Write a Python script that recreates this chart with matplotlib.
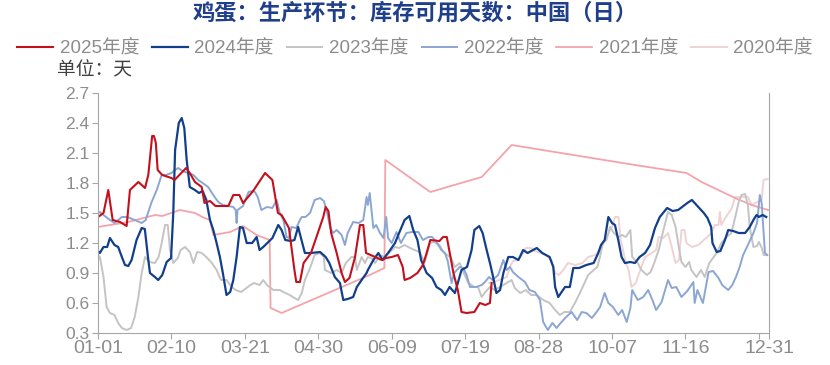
# egg inventory days chart
# --------------------------------------------------------------------------------

import matplotlib
matplotlib.use('Agg')
import matplotlib.pyplot as plt

plt.rcParams['font.family'] = ['Liberation Sans', 'Noto Sans CJK SC', 'DejaVu Sans']

# data, day of year (leap base year) vs inventory days

d25 = [0, 3, 5.6, 8, 12, 15.6, 17.4, 22, 25.6, 27.4, 29.5, 30.5, 31.5, 32.5, 35, 40, 41.7, 48, 50, 52.8,
       56.5, 58, 61, 64, 71, 73.7, 77, 79, 84.5, 91, 95, 98, 100, 104, 107, 108, 110, 112, 116, 119,
       122.7, 124, 125.5, 127, 130, 132.7, 134.5, 137, 140, 142.7, 144.5, 146, 151, 154.5, 157, 160, 163.4, 166, 167, 170,
       174, 177, 179, 181, 186, 188, 190, 192, 193.6, 196, 198, 200.8, 205, 208, 211, 213.5, 214.4]
v25 = [1.46, 1.5, 1.73, 1.43, 1.41, 1.37, 1.73, 1.81, 1.75, 1.88, 2.27, 2.27, 2.2, 1.93, 1.88, 1.85, 1.83, 1.95, 1.9, 1.81,
       1.76, 1.6, 1.62, 1.57, 1.57, 1.68, 1.68, 1.6, 1.72, 1.9, 1.83, 1.5, 1.48, 1.35, 0.93, 0.81, 0.81, 1.0, 1.1, 1.26,
       1.46, 1.56, 1.52, 1.3, 1.1, 0.9, 0.81, 0.85, 1.06, 1.38, 1.38, 1.1, 1.06, 1.03, 1.05, 1.06, 1.08, 0.96, 0.83, 0.85,
       0.9, 0.98, 1.1, 1.23, 1.22, 1.26, 1.26, 1.06, 0.9, 0.73, 0.51, 0.5, 0.51, 0.6, 0.58, 0.6, 0.8]

d24 = [0, 1, 3, 5, 6.5, 9, 11, 13, 14.7, 16.5, 18.3, 21, 23.8, 25.5, 27.4, 28.3, 31, 32.8, 35, 37.4,
       39.8, 41, 42, 44, 45.6, 47, 48.3, 50, 52.8, 55, 57, 59, 61, 62.8, 64.6, 66.4, 68, 70, 72, 73.7,
       75.5, 77.3, 79, 81, 84, 86.4, 88, 90, 92.8, 95, 98.2, 100, 102, 105, 107, 109, 111, 112.7, 116, 121,
       124, 126, 129, 131.8, 133.6, 136, 139, 141, 143.6, 146.3, 147, 150, 152.7, 155, 158, 161.8, 164, 167, 169.6, 171.7,
       174, 176, 179, 182, 184.4, 187, 189, 191.5, 194.4, 196, 198, 201, 203.5, 205, 207.7, 209.5, 211.7, 213.5, 215, 217,
       219, 220.8, 223.5, 226, 229, 231.6, 234, 239, 242, 246, 248, 249, 250.7, 254.4, 257, 258.9, 262, 266, 270, 272.5,
       274, 276, 278, 280, 281.6, 283.4, 285.2, 287, 290, 292.5, 295, 298, 300.7, 303.4, 306, 310, 313, 316, 321, 323.5,
       325, 327, 330, 332, 334, 334.7, 337, 339, 341.5, 343.3, 346, 349, 352.5, 355, 357, 358.7, 360, 362, 364]
v24 = [1.12, 1.1, 1.16, 1.16, 1.25, 1.18, 1.16, 1.06, 0.98, 0.97, 1.03, 1.23, 1.35, 1.34, 1.03, 0.9, 0.86, 0.83, 0.88, 1.01,
       1.05, 1.5, 2.13, 2.4, 2.45, 2.35, 2.03, 1.76, 1.73, 1.7, 1.72, 1.63, 1.43, 1.33, 1.2, 1.06, 0.9, 0.68, 0.71, 0.83,
       1.06, 1.36, 1.35, 1.2, 1.2, 1.26, 1.13, 1.16, 1.21, 1.25, 1.38, 1.33, 1.23, 1.22, 1.23, 1.36, 1.22, 1.1, 1.1, 1.11,
       1.06, 1.0, 0.86, 0.8, 0.63, 0.64, 0.66, 0.76, 0.83, 0.9, 0.93, 1.03, 1.1, 1.03, 1.1, 1.2, 1.3, 1.43, 1.47, 1.33,
       1.23, 1.03, 0.9, 0.85, 0.76, 0.73, 0.68, 0.76, 0.7, 0.8, 0.93, 0.96, 1.13, 1.33, 1.37, 1.3, 1.13, 1.0, 0.88, 0.7,
       0.73, 0.9, 1.06, 1.06, 1.03, 1.13, 1.1, 1.15, 1.1, 1.06, 0.96, 0.76, 0.66, 0.76, 0.76, 0.95, 0.95, 0.98, 1.0, 1.1,
       1.18, 1.23, 1.46, 1.4, 1.38, 1.23, 1.06, 1.0, 1.01, 1.0, 1.06, 1.1, 1.18, 1.35, 1.46, 1.55, 1.52, 1.53, 1.6, 1.63,
       1.6, 1.56, 1.5, 1.45, 1.36, 1.2, 1.11, 1.12, 1.23, 1.33, 1.32, 1.3, 1.3, 1.36, 1.43, 1.48, 1.46, 1.48, 1.46]

d23 = [0, 1, 3, 4.7, 6.5, 9, 11, 13, 15.6, 18, 20, 22, 23.8, 25.6, 28, 31, 33, 34.7, 36.5, 38,
       39.2, 41, 43.5, 45, 47.4, 50, 52, 54, 56.5, 59, 62, 64.6, 67, 70, 72.8, 75, 78, 83, 85, 88,
       90, 92, 95.5, 99, 102, 104.5, 107, 109, 111, 112.7, 115.5, 118, 121, 123, 123.6, 127, 130, 132.7, 135, 138,
       140, 141, 143.6, 145.4, 147, 149, 151, 153.6, 156, 159, 161.8, 164, 167, 170, 172.5, 175, 178, 181, 183, 186,
       188.5, 192, 194.4, 197, 199, 201.7, 205, 207, 209, 211, 213.5, 216, 219, 222.6, 225.3, 227, 230, 233, 236, 239,
       242.5, 246, 249, 251.6, 254, 257, 259.8, 262.5, 265, 267, 270, 272, 273.4, 275, 277, 278.9, 281, 283.4, 285.5, 287.5,
       290, 291, 292.5, 294, 296, 299, 301, 303, 305.4, 308, 310.5, 312.5, 314.6, 316, 317.8, 320, 322, 323.2, 326, 328.5,
       330.5, 333, 337, 339.5, 342.4, 345, 347, 349, 350.5, 352.5, 354, 355, 357, 359, 360, 361.6, 362.6, 364.5]
v23 = [1.08, 1.06, 0.86, 0.56, 0.5, 0.48, 0.4, 0.35, 0.33, 0.35, 0.46, 0.66, 0.9, 1.06, 1.01, 1.0, 1.06, 1.2, 1.38, 1.38,
       1.13, 1.0, 1.05, 1.13, 1.16, 1.11, 1.0, 1.11, 1.1, 1.06, 1.0, 0.93, 0.83, 0.83, 0.76, 0.73, 0.71, 0.78, 0.8, 0.78,
       0.83, 0.78, 0.73, 0.73, 0.7, 0.68, 0.65, 0.63, 0.7, 0.83, 0.95, 1.08, 1.1, 1.06, 0.93, 0.9, 0.93, 0.9, 1.0, 1.06,
       1.06, 0.93, 1.06, 1.0, 1.06, 1.05, 1.0, 1.08, 1.06, 1.11, 1.16, 1.15, 1.18, 1.15, 1.13, 1.11, 1.01, 1.2, 1.21, 1.18,
       1.1, 1.06, 0.96, 1.0, 0.91, 0.8, 0.76, 0.76, 0.66, 0.71, 0.76, 0.73, 0.76, 0.8, 0.83, 0.75, 0.7, 0.73, 0.68, 0.68,
       0.63, 0.6, 0.53, 0.48, 0.51, 0.51, 0.6, 0.7, 0.8, 0.88, 0.93, 0.96, 1.06, 1.2, 1.23, 1.36, 1.3, 1.26, 1.28, 1.26,
       1.33, 1.06, 1.03, 1.0, 0.93, 0.88, 0.91, 1.0, 1.13, 1.33, 1.51, 1.48, 1.36, 1.2, 1.01, 0.96, 1.01, 0.93, 0.86, 0.93,
       0.86, 1.0, 1.1, 1.2, 1.26, 1.3, 1.45, 1.61, 1.68, 1.69, 1.58, 1.36, 1.16, 1.17, 1.21, 1.15, 1.08, 1.08]

d22 = [0, 1, 3, 6.5, 9, 13, 16, 20, 23.8, 26, 29, 32, 34.7, 37, 40, 42, 43.7, 46, 49, 52,
       54.6, 57, 60, 62.8, 65.5, 68, 71, 73.7, 75, 75.5, 76, 79, 82, 84, 85.5, 87, 89, 92, 95, 97.3,
       99, 101, 102.7, 104, 105.4, 108, 110, 111, 113, 115.5, 118, 121, 123, 124.5, 126.4, 128, 130, 132.7, 134.5, 136,
       139, 142, 144.5, 146.3, 147, 148, 150, 151.5, 153.6, 155.5, 157, 158, 160, 162.6, 165, 168, 171, 174.5, 177, 180,
       182, 184.4, 187, 189, 190.5, 192.6, 194, 197, 199, 200.8, 202.6, 206, 209, 210.8, 213, 215, 218, 220.8, 222.6, 224.4,
       226, 229, 232.6, 235, 238, 240.7, 242.5, 245, 247.5, 249.8, 252, 255, 258, 261, 263.5, 266, 269, 271.6, 273.5, 276,
       278, 280.5, 283.4, 285.5, 288, 290, 291, 294, 297, 299.7, 302, 304, 307, 310.5, 312.5, 315, 317.8, 321, 324.3, 325,
       326.5, 329.5, 332.6, 335, 338, 340, 343.3, 345.5, 347.5, 349.5, 351.4, 354, 357, 359, 360.5, 361.5, 363.3, 364.5]
v22 = [1.5, 1.51, 1.48, 1.43, 1.4, 1.46, 1.46, 1.43, 1.4, 1.43, 1.6, 1.73, 1.88, 1.88, 1.9, 1.93, 1.95, 1.92, 1.9, 1.88,
       1.83, 1.8, 1.76, 1.68, 1.61, 1.58, 1.57, 1.56, 1.53, 1.4, 1.53, 1.57, 1.71, 1.72, 1.71, 1.66, 1.53, 1.56, 1.55, 1.63,
       1.5, 1.43, 1.26, 1.25, 1.36, 1.35, 1.43, 1.46, 1.46, 1.5, 1.63, 1.65, 1.62, 1.53, 1.36, 1.3, 1.33, 1.28, 1.18, 1.3,
       1.41, 1.4, 1.43, 1.66, 1.58, 1.7, 1.35, 1.38, 1.3, 1.25, 1.46, 1.25, 1.2, 1.31, 1.2, 1.3, 1.31, 1.31, 1.23, 1.26,
       1.26, 1.21, 1.13, 1.1, 1.02, 0.8, 0.9, 0.96, 0.95, 0.88, 0.76, 0.76, 0.78, 0.81, 0.86, 0.83, 0.88, 1.03, 0.93, 0.96,
       0.91, 0.86, 0.81, 0.73, 0.71, 0.63, 0.41, 0.33, 0.4, 0.35, 0.4, 0.46, 0.51, 0.43, 0.51, 0.5, 0.45, 0.51, 0.56, 0.7,
       0.6, 0.56, 0.48, 0.53, 0.41, 0.55, 0.73, 0.63, 0.66, 0.73, 0.63, 0.53, 0.61, 0.83, 0.75, 0.76, 0.66, 0.72, 0.81, 0.6,
       0.73, 0.6, 0.91, 0.92, 0.85, 0.78, 0.73, 0.78, 0.86, 0.96, 1.08, 1.18, 1.3, 1.4, 1.68, 1.6, 1.1, 1.08]

d21 = [0, 16.5, 31, 35, 44.7, 52.8, 58, 61, 62.8, 72, 79, 86.4, 93.5, 94, 100, 148, 156, 156.5, 181, 209,
       225.3, 292.5, 320.6, 328.8, 347, 356, 365]
v21 = [1.36, 1.41, 1.48, 1.47, 1.53, 1.5, 1.45, 1.43, 1.28, 1.31, 1.37, 1.28, 1.23, 0.55, 0.5, 0.88, 0.95, 2.03, 1.71, 1.86,
       2.18, 1.98, 1.9, 1.81, 1.65, 1.58, 1.53]

d20 = [213, 217, 222.6, 224.4, 226, 229, 231.6, 233, 236, 238, 241, 244, 247, 249, 251, 253.4, 256, 260, 264, 267,
       271, 274.3, 277, 280, 281.6, 283.5, 284.7, 286, 287.5, 289, 290.6, 293, 294, 296, 298, 301.5, 304, 305.4, 308, 310.5,
       312, 314.6, 316.5, 317.8, 319.5, 320.5, 323.5, 327, 330, 332, 334, 336, 338, 338.8, 339.5, 342, 345.3, 347, 351, 354,
       356, 359, 361.5, 362.5, 364.7]
v20 = [0.8, 0.82, 0.86, 0.96, 1.02, 1.03, 1.1, 1.15, 1.15, 1.12, 1.1, 1.08, 1.03, 0.9, 0.88, 0.93, 1.0, 0.98, 1.0, 1.06,
       1.08, 1.16, 1.26, 1.36, 1.46, 1.46, 1.23, 1.13, 1.0, 0.93, 0.76, 0.8, 0.86, 0.96, 1.06, 1.1, 1.13, 1.26, 1.25, 1.3,
       1.2, 1.0, 1.03, 1.33, 1.33, 1.2, 1.16, 1.18, 1.23, 1.26, 1.3, 1.38, 1.38, 1.51, 1.38, 1.46, 1.55, 1.66, 1.66, 1.66,
       1.58, 1.61, 1.63, 1.83, 1.84]

xtick_days = [0, 40, 80, 120, 160, 200, 240, 280, 320, 360, 365.5]
xtick_labels = ['01-01', '02-10', '03-21', '04-30', '06-09', '07-19', '08-28', '10-07', '11-16', '', '12-31']
yticks = [0.3, 0.6, 0.9, 1.2, 1.5, 1.8, 2.1, 2.4, 2.7]

# figure

fig = plt.figure(figsize=(8.3, 3.65), dpi=100)
ax = fig.add_axes([98/830, 32/365, 671/830, 240/365])

grey = '#8C8C8C'

l20, = ax.plot(d20, v20, color='#EFD3D4', lw=1.4, label='2020年度')
l21, = ax.plot(d21, v21, color='#F4A3AB', lw=1.3, label='2021年度')
l23, = ax.plot(d23, v23, color='#C4C4C4', lw=1.4, label='2023年度')
l22, = ax.plot(d22, v22, color='#8BA6D3', lw=1.4, label='2022年度')
l24, = ax.plot(d24, v24, color='#123F8C', lw=1.6, label='2024年度')
l25, = ax.plot(d25, v25, color='#C4101C', lw=1.5, label='2025年度')

ax.set_xlim(0, 365.5)
ax.set_ylim(0.3, 2.7)
ax.set_yticks(yticks)
ax.set_yticklabels(['%.1f' % y for y in yticks])
ax.set_xticks(xtick_days)
ax.set_xticklabels(xtick_labels)

for s in ['left', 'bottom', 'right']:
    ax.spines[s].set_color('#A6A6A6')
ax.spines['top'].set_visible(False)
ax.tick_params(axis='both', colors='#A6A6A6', labelcolor=grey, length=4, width=0.8)
ax.tick_params(axis='x', labelsize=14, pad=1)
ax.tick_params(axis='y', labelsize=12.5, pad=2)

# title, legend, unit

fig.text(0.5, 0.962, '鸡蛋：生产环节：库存可用天数：中国（日）', ha='center', va='center',
         fontsize=16, fontweight='bold', color='#1F3F8A')

fig.legend(handles=[l25, l24, l23, l22, l21, l20], loc='center', bbox_to_anchor=(0.5, 0.866),
           ncol=6, frameon=False, fontsize=13.5, handlelength=1.9, handletextpad=0.35,
           columnspacing=0.7, labelcolor=grey, borderaxespad=0)

fig.text(57/830, 0.805, '单位：天', ha='left', va='center', fontsize=13.5, color='#404040')

fig.savefig('out.png', dpi=100)
